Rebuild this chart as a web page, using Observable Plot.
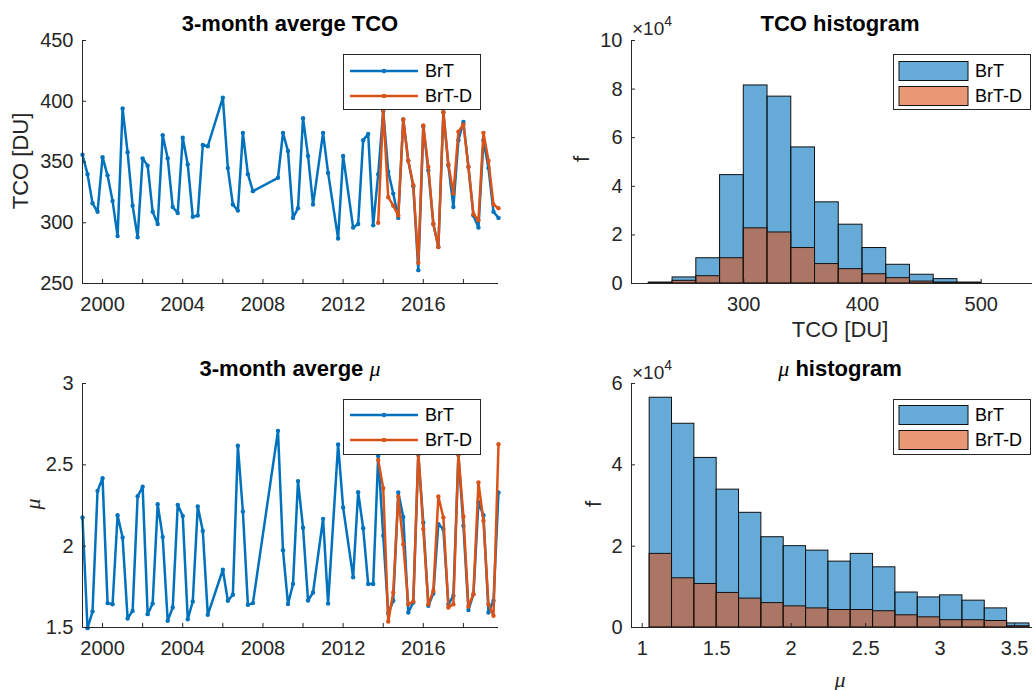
<!DOCTYPE html>
<html>
<head>
<meta charset="utf-8">
<script src="https://cdn.jsdelivr.net/npm/d3@7"></script>
<script src="https://cdn.jsdelivr.net/npm/@observablehq/plot@0.6"></script>
<style>
html,body{margin:0;padding:0;background:#fff;overflow:hidden;}
#fig{position:relative;width:1036px;height:690px;font-family:"Liberation Sans",Arial,Helvetica,sans-serif;color:#262626;}
.panel{position:absolute;overflow:hidden;}
.panel svg{display:block;max-width:none !important;}
.t{position:absolute;transform:translate(-50%,-50%);white-space:nowrap;line-height:1;}
.title{font-weight:bold;font-size:22px;color:#000;}
.lab{font-size:22px;color:#262626;}
.rot{transform:translate(-50%,-50%) rotate(-90deg);}
.mu{font-style:italic;font-weight:normal;font-family:"Liberation Serif","DejaVu Serif",serif;}
.legend{position:absolute;background:#fff;border:1px solid #262626;box-sizing:border-box;}
.legend svg{position:absolute;left:0;top:0;}
.exp{position:absolute;font-size:19px;line-height:1;color:#262626;white-space:nowrap;}
.exp sup{font-size:14px;position:relative;top:-2px;}
</style>
</head>
<body>
<div id="fig"></div>
<script>
// ---------------- data ----------------
const seriesNames = ["BrT", "BrT-D"];

const timeBrT = [1999,1999.25,1999.5,1999.75, 2000,2000.25,2000.5,2000.75, 2001,2001.25,2001.5,2001.75,
  2002,2002.25,2002.5,2002.75, 2003,2003.25,2003.5,2003.75, 2004,2004.25,2004.5,2004.75,
  2005,2005.25, 2006,2006.25,2006.5,2006.75, 2007,2007.25,2007.5, 2008.75,
  2009,2009.25,2009.5,2009.75, 2010,2010.25,2010.5, 2011,2011.25, 2011.75, 2012, 2012.5,2012.75,
  2013,2013.25,2013.5,2013.75, 2014,2014.25,2014.5,2014.75, 2015,2015.25,2015.5,2015.75,
  2016,2016.25,2016.5,2016.75, 2017,2017.25,2017.5,2017.75, 2018,2018.25,2018.5,2018.75,
  2019,2019.25,2019.5,2019.75];

const tcoBrT = [356,340,316,309, 354,339,318,289, 394,358,314,288, 353,347,309,299, 372,353,313,308,
  370,348,305,306, 364,363, 403,345,315,310, 374,340,326, 337, 374,359,304,312, 386,355,315,
  374,341, 287, 355, 296,299, 368,373,298,340, 392,342,324,304, 385,351,330,261,
  379,343,299,280, 391,347,313,368, 383,346,306,296, 368,345,309,304];

const muBrT = [2.176,1.496,1.598,2.34, 2.418,1.65,1.643,2.19, 2.053,1.555,1.602,2.307, 2.365,1.582,1.648,2.258,
  2.057,1.541,1.623,2.254, 2.186,1.551,1.66,2.244, 2.094,1.578, 1.855,1.664,1.701,2.617, 2.213,1.639,1.65,
  2.709, 1.975,1.644,1.767,2.40, 2.113,1.666,1.715, 2.168,1.647, 2.625, 2.238, 1.809,2.332,
  2.11,1.767,1.767,2.555, 2.064,1.586,1.664,2.33, 2.18,1.592,1.654,2.56, 2.145,1.633,1.709,2.135,
  2.105,1.643,1.695,2.56, 2.125,1.607,1.705,2.27, 2.19,1.592,1.664,2.33];

const timeBrTD = [2013.75, 2014,2014.25,2014.5,2014.75, 2015,2015.25,2015.5,2015.75, 2016,2016.25,2016.5,2016.75,
  2017,2017.25,2017.5,2017.75, 2018,2018.25,2018.5,2018.75, 2019,2019.25,2019.5,2019.75];
const tcoBrTD = [300, 393,321,314,306, 385,351,331,267, 380,346,299,280, 391,348,324,375, 381,346,307,302, 374,351,315,312];
const muBrTD = [2.53, 2.357,1.537,1.715,2.305, 2.012,1.643,1.66,2.58, 2.105,1.643,1.725,2.305,
  2.176,1.623,1.643,2.565, 2.183,1.629,1.705,2.391, 2.156,1.643,1.572,2.627];

const tcoBinEdges = [220,240,260,280,300,320,340,360,380,400,420,440,460,480,500];
const tcoHistBrT  = [400,2500,10400,44600,81500,76900,56000,33400,24200,14600,7700,3600,1800,400];
const tcoHistBrTD = [150,1100,3000,10400,22700,21000,14600,8000,5900,3800,2200,800,400,100];

const muBinEdges = [1.05,1.2,1.35,1.5,1.65,1.8,1.95,2.1,2.25,2.4,2.55,2.7,2.85,3.0,3.15,3.3,3.45,3.6];
const muHistBrT  = [56500,50100,41700,33900,28200,22200,20000,18900,16200,18100,14800,8600,7400,7900,6600,4700,1000];
const muHistBrTD = [18100,12100,10700,8500,7100,6000,5200,4700,4300,4300,4000,3000,2500,1800,1800,1600,300];

const yearTicks = [2000,2002,2004,2006,2008,2010,2012,2014,2016,2018];
const yearLabels = [2000,2004,2008,2012,2016];
const tcoTicks = [250,300,350,400,450];
const muTicks = [1.5,2,2.5,3];
const tcoHistXTicks = [300,400,500];
const tcoHistYTicks = [0,20000,40000,60000,80000,100000];
const muHistXTicks = [1,1.5,2,2.5,3,3.5];
const muHistYTicks = [0,20000,40000,60000];

// ---------------- style ----------------
const BLUE = "#0072BD", ORANGE = "#D95319", AX = "#262626";
const FONT = "'Liberation Sans', Arial, Helvetica, sans-serif";
const style = {fontFamily: FONT, fontSize: "20px", color: AX, background: "transparent", overflow: "visible", maxWidth: "none"};

const series = (t, v) => t.map((d, i) => ({t: d, v: v[i]}));
const bins = (edges, n) => n.map((c, i) => ({lo: edges[i], hi: edges[i + 1], n: c}));
const fmt = d => String(d);

function linePanel(dataA, dataB, xDomain, yDomain, yTicks, mt, mb, h) {
  return Plot.plot({
    width: 540, height: h, marginLeft: 82, marginRight: 42, marginTop: mt, marginBottom: mb,
    style,
    x: {type: "linear", domain: xDomain, label: null},
    y: {domain: yDomain, label: null},
    marks: [
      Plot.line(dataA, {x: "t", y: "v", stroke: BLUE, strokeWidth: 2.5, strokeLinejoin: "round"}),
      Plot.dot(dataA, {x: "t", y: "v", r: 2.2, fill: BLUE}),
      Plot.line(dataB, {x: "t", y: "v", stroke: ORANGE, strokeWidth: 2.5, strokeLinejoin: "round"}),
      Plot.dot(dataB, {x: "t", y: "v", r: 2.2, fill: ORANGE}),
      Plot.ruleX([xDomain[0]], {stroke: AX, strokeWidth: 1}),
      Plot.ruleY([yDomain[0]], {stroke: AX, strokeWidth: 1}),
      Plot.axisX(yearTicks, {tickSize: -4, tickPadding: 17, color: AX,
        tickFormat: d => yearLabels.includes(d) ? String(d) : ""}),
      Plot.axisY(yTicks, {tickSize: -4, tickPadding: 13, color: AX, tickFormat: fmt})
    ]
  });
}

function histPanel(binsA, binsB, xDomain, yDomain, xTicks, yTicks, mt, mb, h) {
  return Plot.plot({
    width: 540, height: h, marginLeft: 91, marginRight: 32, marginTop: mt, marginBottom: mb,
    style,
    x: {domain: xDomain, label: null},
    y: {domain: yDomain, label: null},
    marks: [
      Plot.rectY(binsA, {x1: "lo", x2: "hi", y: "n", fill: BLUE, fillOpacity: 0.6, stroke: "#111", strokeWidth: 1, inset: 0}),
      Plot.rectY(binsB, {x1: "lo", x2: "hi", y: "n", fill: ORANGE, fillOpacity: 0.6, stroke: "#111", strokeWidth: 1, inset: 0}),
      Plot.ruleX([xDomain[0]], {stroke: AX, strokeWidth: 1}),
      Plot.ruleY([yDomain[0]], {stroke: AX, strokeWidth: 1}),
      Plot.axisX(xTicks, {tickSize: -4, tickPadding: 17, color: AX, tickFormat: fmt}),
      Plot.axisY(yTicks, {tickSize: -4, tickPadding: 13, color: AX, tickFormat: d => String(d / 1e4)})
    ]
  });
}

const fig = document.getElementById("fig");
function place(node, left, top, w, h) {
  const d = document.createElement("div");
  d.className = "panel";
  d.style.cssText = `left:${left}px;top:${top}px;width:${w}px;height:${h}px;`;
  node.style.maxWidth = "none";
  d.appendChild(node);
  fig.appendChild(d);
}
function addText(html, cls, x, y) {
  const d = document.createElement("div");
  d.className = "t " + cls;
  d.style.left = x + "px"; d.style.top = y + "px";
  d.innerHTML = html;
  fig.appendChild(d);
}
function lineLegend(left, top, rows) {
  const d = document.createElement("div");
  d.className = "legend";
  d.style.cssText = `left:${left}px;top:${top}px;width:138px;height:56px;`;
  const cols = [BLUE, ORANGE];
  d.innerHTML = `<svg width="136" height="54">` + seriesNames.map((n, i) =>
    `<line x1="6" x2="74" y1="${rows[i]}" y2="${rows[i]}" stroke="${cols[i]}" stroke-width="2.5"/>` +
    `<circle cx="40" cy="${rows[i]}" r="2.2" fill="${cols[i]}"/>` +
    `<text x="81" y="${rows[i]}" dy="0.36em" font-size="18" font-family="${FONT}" fill="#000">${n}</text>`).join("") + `</svg>`;
  fig.appendChild(d);
}
function patchLegend(left, top, rows) {
  const d = document.createElement("div");
  d.className = "legend";
  d.style.cssText = `left:${left}px;top:${top}px;width:138px;height:56px;`;
  const cols = [BLUE, ORANGE];
  d.innerHTML = `<svg width="136" height="54">` + seriesNames.map((n, i) =>
    `<rect x="5" y="${rows[i] - 9.5}" width="69" height="19" fill="${cols[i]}" fill-opacity="0.6" stroke="#111" stroke-width="1"/>` +
    `<text x="81" y="${rows[i]}" dy="0.36em" font-size="18" font-family="${FONT}" fill="#000">${n}</text>`).join("") + `</svg>`;
  fig.appendChild(d);
}

// ---------------- panels ----------------
place(linePanel(series(timeBrT, tcoBrT), series(timeBrTD, tcoBrTD), [1999, 2019.75], [250, 450], tcoTicks, 40, 57, 340), 0, 0, 540, 340);
place(linePanel(series(timeBrT, muBrT), series(timeBrTD, muBrTD), [1999, 2019.75], [1.5, 3], muTicks, 43, 63, 350), 0, 340, 540, 350);
place(histPanel(bins(tcoBinEdges, tcoHistBrT), bins(tcoBinEdges, tcoHistBrTD), [205.4, 556.7], [0, 100000], tcoHistXTicks, tcoHistYTicks, 40, 57, 340), 540, 0, 492, 340);
place(histPanel(bins(muBinEdges, muHistBrT), bins(muBinEdges, muHistBrTD), [0.928, 3.728], [0, 60000], muHistXTicks, muHistYTicks, 43, 63, 350), 540, 340, 492, 350);

// titles and labels
addText("3-month averge TCO", "title", 290, 24);
addText('3-month averge <span class="mu">μ</span>', "title", 290, 369);
addText("TCO histogram", "title", 840, 24);
addText('<span class="mu">μ</span> histogram', "title", 840, 369);
addText("TCO [DU]", "lab rot", 21, 161);
addText('<span class="mu">μ</span>', "lab rot", 33, 504);
addText("f", "lab rot", 582, 159);
addText("f", "lab rot", 594, 504);
addText("TCO [DU]", "lab", 840, 330);
addText('<span class="mu">μ</span>', "lab", 840, 680);

const e1 = document.createElement("div"); e1.className = "exp"; e1.style.cssText = "left:632px;top:16px;"; e1.innerHTML = "×10<sup>4</sup>"; fig.appendChild(e1);
const e2 = document.createElement("div"); e2.className = "exp"; e2.style.cssText = "left:632px;top:360px;"; e2.innerHTML = "×10<sup>4</sup>"; fig.appendChild(e2);

lineLegend(343, 54, [16, 41]);
lineLegend(343, 399, [15, 40]);
patchLegend(893, 54, [16, 41]);
patchLegend(893, 399, [15, 40]);
</script>
</body>
</html>
